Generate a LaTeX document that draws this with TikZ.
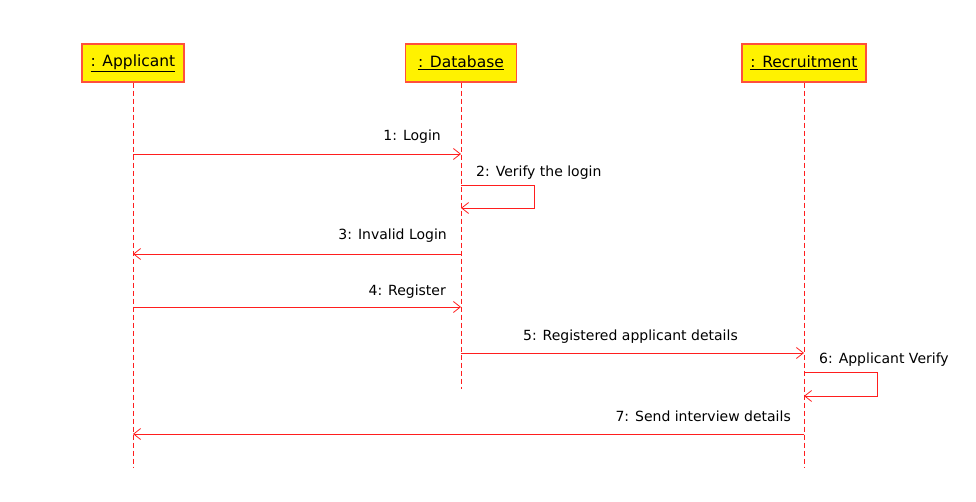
\documentclass[tikz,border=0pt]{standalone}
\usepackage{fontspec}
\setmainfont{DejaVu Sans}
\usetikzlibrary{arrows.meta}
\definecolor{lifered}{RGB}{255,30,30}
\definecolor{boxred}{RGB}{255,80,60}
\begin{document}
\begin{tikzpicture}[x=1pt,y=-1pt,
    actor/.style = {draw=boxred,line width=1.2pt,fill=yellow,minimum height=38pt,inner xsep=8pt,font=\fontsize{15.5}{18}\selectfont},
    lifeline/.style = {draw=lifered,line width=1pt,dash pattern=on 5pt off 3pt},
    msg/.style = {draw=lifered,line width=0.8pt,-{Straight Barb[length=7pt,width=11pt,line width=0.8pt]}},
    lbl/.style = {inner sep=0pt,font=\fontsize{14}{16}\selectfont}]
    \useasboundingbox (0,0) rectangle (976,502);

    % participants
    \node[actor,minimum width=102pt] (app) at (133,63) {\underline{: Applicant}};
    \node[actor,minimum width=111pt] (db)  at (461,63) {\underline{: Database}};
    \node[actor,minimum width=124pt] (rec) at (804,63) {\underline{: Recruitment}};

    \coordinate (appEnd) at (133,468);
    \coordinate (dbEnd)  at (461,389);
    \coordinate (recEnd) at (804,468);
    \draw[lifeline] (app.south) -- (appEnd);
    \draw[lifeline] (db.south)  -- (dbEnd);
    \draw[lifeline] (rec.south) -- (recEnd);

    % message points on the lifelines
    \coordinate (a1) at (133,154); \coordinate (d1) at (461,154);
    \coordinate (d2) at (461,185); \coordinate (d2r) at (461,208);
    \coordinate (a3) at (133,254); \coordinate (d3) at (461,254);
    \coordinate (a4) at (133,307); \coordinate (d4) at (461,307);
    \coordinate (d5) at (461,353); \coordinate (r5) at (804,353);
    \coordinate (r6) at (804,372); \coordinate (r6r) at (804,396);
    \coordinate (a7) at (133,434); \coordinate (r7) at (804,434);

    % messages
    \draw[msg] (a1) -- (d1);
    \node[lbl,anchor=base east] (m1) at (441,141) {1: Login};
    \draw[msg] (d2) -- ++(73,0) |- (d2r);
    \node[lbl,anchor=base west] (m2) at (476,177) {2: Verify the login};
    \draw[msg] (d3) -- (a3);
    \node[lbl,anchor=base east] (m3) at (447,240) {3: Invalid Login};
    \draw[msg] (a4) -- (d4);
    \node[lbl,anchor=base east] (m4) at (446,295) {4: Register};
    \draw[msg] (d5) -- (r5);
    \node[lbl,anchor=base east] (m5) at (738,340) {5: Registered applicant details};
    \draw[msg] (r6) -- ++(73,0) |- (r6r);
    \node[lbl,anchor=base west] (m6) at (819,363) {6: Applicant Verify};
    \draw[msg] (r7) -- (a7);
    \node[lbl,anchor=base east] (m7) at (791,421) {7: Send interview details};
\end{tikzpicture}
\end{document}
